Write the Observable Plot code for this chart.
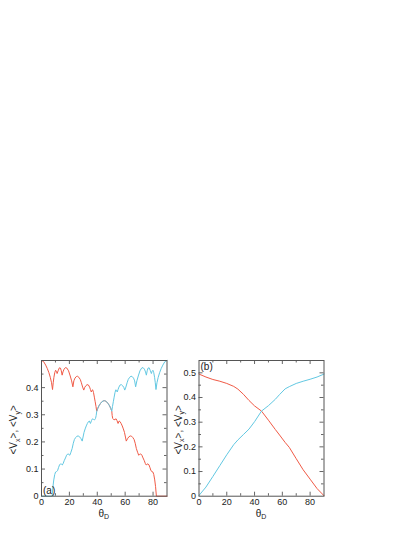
<!DOCTYPE html>
<html><head><meta charset="utf-8">
<script src="https://cdn.jsdelivr.net/npm/d3@7"></script>
<script src="https://cdn.jsdelivr.net/npm/@observablehq/plot@0.6"></script>
<style>
html,body{margin:0;padding:0;background:#fff;}
#wrap{position:relative;width:415px;height:537px;overflow:hidden;}
.panel{position:absolute;top:350px;}
</style></head><body>
<div id="wrap"><div id="pa" class="panel" style="left:0px"></div><div id="pb" class="panel" style="left:170px"></div></div>
<script>
// ---------- data: panel (a) ----------
const thetaVxA = [0,1.5,3.0,4.2,5.3,6.3,7.2,7.9,8.4,8.9,9.5,10.1,10.7,11.2,11.9,12.8,13.6,14.2,14.8,15.4,16.2,17.2,18.2,19.4,20.6,21.6,22.5,23.2,24.0,25.0,25.8,26.8,27.8,28.6,29.5,30.3,31.0,31.8,32.7,33.6,34.5,35.1,35.7,36.2,36.7,37.3,37.9,38.5,39.1,39.6,40.3,41.2,42.2,43.3,44.3,45,45.7,46.7,47.8,48.8,49.7,50.4,50.7,51.1,51.7,52.0,52.7,53.5,54.1,54.9,55.7,56.3,57.1,57.9,58.7,59.5,60.2,60.8,61.7,62.7,63.7,64.6,65.5,66.4,67.2,68.0,68.9,69.7,70.4,71.1,72.0,72.8,73.7,74.5,75.1,75.7,76.4,77.1,77.8,78.5,79.2,79.9,80.5,81.2,81.8,82.4,90];
const vxA = [0.5,0.496,0.483,0.47,0.455,0.438,0.418,0.393,0.418,0.438,0.455,0.464,0.46,0.452,0.462,0.473,0.472,0.462,0.446,0.458,0.468,0.474,0.472,0.462,0.443,0.425,0.403,0.425,0.435,0.441,0.442,0.438,0.43,0.418,0.402,0.391,0.401,0.407,0.411,0.41,0.402,0.393,0.384,0.39,0.392,0.382,0.365,0.348,0.33,0.313,0.323,0.333,0.341,0.348,0.351,0.352,0.351,0.348,0.341,0.333,0.323,0.313,0.297,0.286,0.283,0.281,0.283,0.285,0.279,0.268,0.277,0.275,0.268,0.259,0.248,0.235,0.218,0.203,0.212,0.219,0.222,0.221,0.216,0.209,0.195,0.176,0.162,0.151,0.154,0.156,0.151,0.141,0.131,0.12,0.115,0.118,0.119,0.115,0.105,0.094,0.091,0.089,0.08,0.06,0.035,0,0];
const thetaVyA = [0,7.6,8.2,8.8,9.5,10.1,10.8,11.5,12.2,12.9,13.6,14.3,14.9,15.5,16.3,17.2,18.0,18.9,19.6,20.3,21.1,22.0,22.8,23.6,24.5,25.4,26.3,27.3,28.3,29.2,29.8,30.5,31.3,32.1,32.9,33.7,34.3,35.1,35.9,36.5,37.3,38.0,38.7,39.2,39.6,40.3,41.2,42.2,43.3,44.3,45,45.7,46.7,47.8,48.8,49.7,50.4,50.9,51.5,52.1,52.7,53.3,53.8,54.3,54.9,55.5,56.4,57.3,58.2,59.0,59.7,60.5,61.4,62.2,63.2,64.2,65.0,66.0,66.8,67.5,68.4,69.4,70.6,71.8,72.8,73.8,74.6,75.2,75.8,76.4,77.2,78.1,78.8,79.3,79.9,80.5,81.1,81.6,82.1,82.8,83.7,84.7,85.8,87.0,88.5,90];
const vyA = [0,0,0.035,0.06,0.08,0.089,0.091,0.094,0.105,0.115,0.119,0.118,0.115,0.12,0.131,0.141,0.151,0.156,0.154,0.151,0.162,0.176,0.195,0.209,0.216,0.221,0.222,0.219,0.212,0.203,0.218,0.235,0.248,0.259,0.268,0.275,0.277,0.268,0.279,0.285,0.283,0.281,0.286,0.297,0.313,0.323,0.333,0.341,0.348,0.351,0.352,0.351,0.348,0.341,0.333,0.323,0.313,0.33,0.348,0.365,0.382,0.392,0.39,0.384,0.393,0.402,0.41,0.411,0.407,0.401,0.391,0.402,0.418,0.43,0.438,0.442,0.441,0.435,0.425,0.403,0.425,0.443,0.462,0.472,0.474,0.468,0.458,0.446,0.462,0.472,0.473,0.462,0.452,0.46,0.464,0.455,0.438,0.418,0.393,0.418,0.438,0.455,0.47,0.483,0.496,0.5];

// ---------- data: panel (b) ----------
const thetaB = [0,5,10,15,20,25,28,32,36,40,45,50,55,58,62,65,70,75,80,85,90];
const vxB = [0.495,0.483,0.473,0.466,0.457,0.445,0.434,0.413,0.388,0.366,0.345,0.308,0.27,0.248,0.218,0.198,0.152,0.107,0.069,0.031,0.002];
const vyB = [0.003,0.037,0.08,0.124,0.168,0.209,0.228,0.25,0.272,0.302,0.345,0.367,0.393,0.412,0.435,0.444,0.457,0.466,0.474,0.483,0.495];

// ---------- ticks ----------
const xTickLabels = [0,20,40,60,80];
const xMajorInner = [20,40,60,80];
const xMinorInner = [10,30,50,70];
const yTickLabelsA = [0,0.1,0.2,0.3,0.4];
const yMajorInnerA = [0.1,0.2,0.3,0.4];
const yMinorInnerA = [0.05,0.15,0.25,0.35,0.45];
const yTickLabelsB = [0,0.1,0.2,0.3,0.4,0.5];
const yMajorInnerB = [0.1,0.2,0.3,0.4,0.5];
const yMinorInnerB = [0.05,0.15,0.25,0.35,0.45];

const RED = "#f05a46", BLUE = "#62c8e2", TICK = "#666", FRAME = "#555";
const FONT = "'Liberation Sans', Arial, Helvetica, sans-serif";

function panel({el, width, ml, mr, yDomain, yLabels, yMajor, yMinor, vx, vy, tag, tagAnchor, tagDy, tagLine, ylabX}) {
  const H = 175, mt = 10, mb = 29.3;
  const fw = width - ml - mr, fh = H - mt - mb;
  const chart = Plot.plot({
    width, height: H, marginLeft: ml, marginRight: mr, marginTop: mt, marginBottom: mb,
    style: {fontFamily: FONT, fontSize: "9px", color: "#222", background: "transparent", overflow: "visible"},
    x: {domain: [0, 90], ticks: xTickLabels, tickSize: 0, tickPadding: 2.5, label: null, tickFormat: d => String(d)},
    y: {domain: yDomain, ticks: yLabels, tickSize: 0, tickPadding: 3, label: null, tickFormat: d => String(d)},
    marks: [
      Plot.line(vx, {x: "t", y: "v", stroke: RED, strokeWidth: 1}),
      Plot.line(vy, {x: "t", y: "v", stroke: BLUE, strokeWidth: 1}),
      Plot.tickY(yMajor, {y: d => d, stroke: TICK, insetRight: fw - 4}),
      Plot.tickY(yMajor, {y: d => d, stroke: TICK, insetLeft: fw - 4}),
      Plot.tickY(yMinor, {y: d => d, stroke: TICK, insetRight: fw - 2.5}),
      Plot.tickY(yMinor, {y: d => d, stroke: TICK, insetLeft: fw - 2.5}),
      Plot.tickX(xMajorInner, {x: d => d, stroke: TICK, insetTop: fh - 4}),
      Plot.tickX(xMajorInner, {x: d => d, stroke: TICK, insetBottom: fh - 4}),
      Plot.tickX(xMinorInner, {x: d => d, stroke: TICK, insetTop: fh - 2.5}),
      Plot.tickX(xMinorInner, {x: d => d, stroke: TICK, insetBottom: fh - 2.5}),
      Plot.frame({stroke: FRAME}),
      Plot.text([tag], {text: d => d, frameAnchor: tagAnchor, textAnchor: "start", lineAnchor: tagLine, dx: 1.5, dy: tagDy, fontSize: 10, fill: "#222"})
    ]
  });
  const svg = d3.select(chart);
  // y axis label  <Vx>, <Vy>
  const yl = svg.append("text")
    .attr("transform", `translate(${ylabX},${mt + fh / 2 + 2}) rotate(-90)`)
    .attr("text-anchor", "middle").attr("font-size", 10).attr("fill", "#222");
  yl.append("tspan").text("<V");
  yl.append("tspan").attr("dy", 2.5).attr("font-size", 7).text("x");
  yl.append("tspan").attr("dy", -2.5).text(">, <V");
  yl.append("tspan").attr("dy", 2.5).attr("font-size", 7).text("y");
  yl.append("tspan").attr("dy", -2.5).text(">");
  // x axis label θD
  const xl = svg.append("text")
    .attr("x", ml + fw / 2).attr("y", H - 8.5)
    .attr("text-anchor", "middle").attr("font-size", 10).attr("fill", "#222");
  xl.append("tspan").text("θ");
  xl.append("tspan").attr("dy", 2.5).attr("font-size", 7).text("D");
  document.getElementById(el).appendChild(chart);
}

const toRows = (ts, vs) => ts.map((t, i) => ({t, v: vs[i]}));

panel({el: "pa", width: 200, ml: 41, mr: 33.5, yDomain: [0, 0.5],
  yLabels: yTickLabelsA, yMajor: yMajorInnerA, yMinor: yMinorInnerA,
  vx: toRows(thetaVxA, vxA), vy: toRows(thetaVyA, vyA),
  tag: "(a)", tagAnchor: "bottom-left", tagDy: -2, tagLine: "bottom", ylabX: 17});

panel({el: "pb", width: 160, ml: 28.5, mr: 6.5, yDomain: [0, 0.55],
  yLabels: yTickLabelsB, yMajor: yMajorInnerB, yMinor: yMinorInnerB,
  vx: toRows(thetaB, vxB), vy: toRows(thetaB, vyB),
  tag: "(b)", tagAnchor: "top-left", tagDy: 2.5, tagLine: "top", ylabX: 11.5});
</script>
</body></html>
